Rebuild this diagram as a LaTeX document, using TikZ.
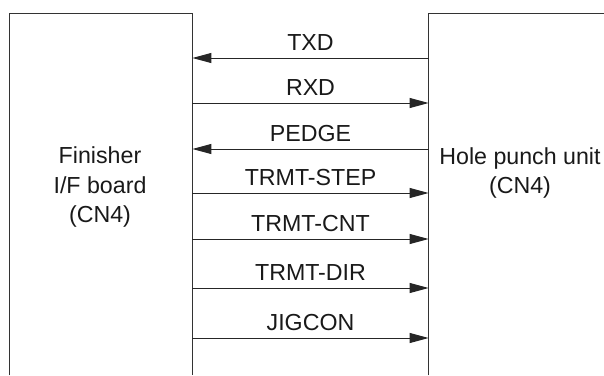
\documentclass[tikz,border=0pt]{standalone}
\usepackage{fontspec}
\setmainfont{Liberation Sans}
\usetikzlibrary{arrows.meta,positioning}

\begin{document}
\begin{tikzpicture}[
  x=0.5pt, y=-0.5pt,
  font=\fontsize{11.6}{14.8}\selectfont,
  unit/.style={rectangle, inner sep=0pt, draw=none},
  edge/.style={draw=black!80, line width=0.65pt},
  arr/.style={-{Triangle[length=9.5pt,width=5pt]}, draw=black!85, line width=0.5pt},
  sig/.style={above, inner sep=3.4pt, text depth=0pt, text=black!90},
  lbl/.style={align=center, inner sep=0pt, text=black!90}
]
\useasboundingbox (0,0) rectangle (604,375);

% the two units, open at the bottom
\node[unit, minimum width=91pt, minimum height=180.5pt] (fin) at (101,194.5) {};
\node[unit, minimum width=87.5pt, minimum height=180.5pt] (hpu) at (516.5,194.5) {};
\draw[edge] (fin.south west) |- (fin.north east) -- (fin.south east);
\draw[edge] (hpu.south west) |- (hpu.north east);

\node[lbl] (finlbl) at (100,187) {Finisher\\I/F board\\(CN4)};
\node[lbl] (hpulbl) at (520,173) {Hole punch unit\\(CN4)};

% signal lines
\draw[arr] (hpu.west |- 0,58) -- node[sig] (txd) {TXD} (fin.east |- 0,58);
\draw[arr] (fin.east |- 0,103) -- node[sig] (rxd) {RXD} (hpu.west |- 0,103);
\draw[arr] (hpu.west |- 0,149) -- node[sig] (pedge) {PEDGE} (fin.east |- 0,149);
\draw[arr] (fin.east |- 0,193) -- node[sig] (step) {TRMT-STEP} (hpu.west |- 0,193);
\draw[arr] (fin.east |- 0,239) -- node[sig] (cnt) {TRMT-CNT} (hpu.west |- 0,239);
\draw[arr] (fin.east |- 0,288) -- node[sig] (dir) {TRMT-DIR} (hpu.west |- 0,288);
\draw[arr] (fin.east |- 0,338) -- node[sig] (jig) {JIGCON} (hpu.west |- 0,338);
\end{tikzpicture}
\end{document}
